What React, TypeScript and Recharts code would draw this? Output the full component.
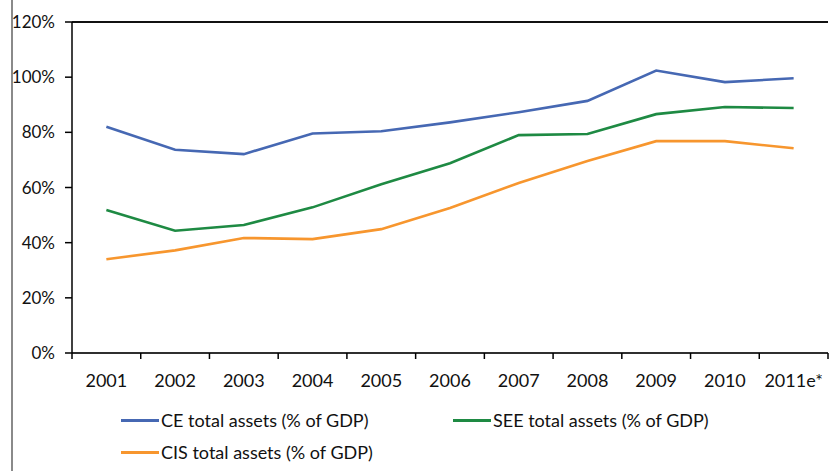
import { LineChart, Line, XAxis, YAxis, CartesianGrid, Legend, ReferenceLine } from "recharts";

const years = ["2001", "2002", "2003", "2004", "2005", "2006", "2007", "2008", "2009", "2010", "2011e*"];
const ceAssets = [82, 73.7, 72.1, 79.6, 80.4, 83.6, 87.3, 91.4, 102.4, 98.2, 99.6];
const seeAssets = [51.8, 44.3, 46.4, 52.8, 61.2, 68.8, 79, 79.4, 86.6, 89.2, 88.8];
const cisAssets = [34, 37.2, 41.7, 41.3, 44.9, 52.6, 61.6, 69.6, 76.8, 76.8, 74.2];
const yTicks = [0, 20, 40, 60, 80, 100, 120];

const series = [
  { key: "ce", name: "CE total assets (% of GDP)", color: "#4668b3" },
  { key: "see", name: "SEE total assets (% of GDP)", color: "#1e8a43" },
  { key: "cis", name: "CIS total assets (% of GDP)", color: "#f7962e" },
];

const data = years.map((year, i) => ({
  year,
  ce: ceAssets[i],
  see: seeAssets[i],
  cis: cisAssets[i],
}));

const FONT = "Lato, 'DejaVu Sans', sans-serif";
const PLOT_W = 756;
const STEP = PLOT_W / years.length;

const XTick = (props: any) => {
  const { x, y, payload, index } = props;
  const last = index === years.length - 1;
  return (
    <g>
      <line x1={x - STEP / 2} x2={x - STEP / 2} y1={y} y2={y + 6} stroke="#000" strokeWidth={1.5} />
      {last && <line x1={x + STEP / 2} x2={x + STEP / 2} y1={y} y2={y + 6} stroke="#000" strokeWidth={1.5} />}
      <text x={x} y={y + 29} textAnchor="middle" dominantBaseline="middle" fontSize={18} fill="#111" fontFamily={FONT}>
        {payload.value}
      </text>
    </g>
  );
};

const LegendBox = () => {
  const pos = [
    { left: 121, top: 16 },
    { left: 453, top: 16 },
    { left: 121, top: 48 },
  ];
  return (
    <div style={{ position: "relative", width: 839, height: 78 }}>
      {series.map((s, i) => (
        <div
          key={s.key}
          style={{
            position: "absolute",
            left: pos[i].left,
            top: pos[i].top,
            display: "flex",
            alignItems: "center",
            fontFamily: FONT,
            fontSize: 18,
            color: "#111",
            whiteSpace: "nowrap",
          }}
        >
          <span style={{ display: "inline-block", width: 38, height: 3, background: s.color, marginRight: 2 }} />
          {s.name}
        </div>
      ))}
    </div>
  );
};

export default function App() {
  return (
    <div style={{ position: "absolute", left: 0, top: 0, width: 839, height: 471, background: "#fff" }}>
      <div style={{ position: "absolute", left: 11, top: 0, width: 2, height: 471, background: "#8a8a8a" }} />
      <LineChart width={839} height={471} data={data} margin={{ top: 22, right: 11, left: 0, bottom: 0 }}>
        <CartesianGrid vertical={false} stroke="#a6a6a6" strokeWidth={1.5} />
        <XAxis
          dataKey="year"
          tick={<XTick />}
          tickLine={false}
          tickSize={0}
          tickMargin={0}
          height={40}
          padding={{ left: STEP / 2, right: STEP / 2 }}
          axisLine={{ stroke: "#000", strokeWidth: 1.5 }}
          interval={0}
        />
        <YAxis
          yAxisId="left"
          width={72}
          domain={[0, 120]}
          ticks={yTicks}
          tickFormatter={(v) => `${v}%`}
          tickSize={7}
          tickMargin={10}
          tickLine={{ stroke: "#000", strokeWidth: 1.5 }}
          axisLine={{ stroke: "#000", strokeWidth: 1.5 }}
          tick={{ fontSize: 17, fill: "#111", fontFamily: FONT }}
        />
        <YAxis
          yAxisId="right"
          orientation="right"
          width={0}
          domain={[0, 120]}
          tick={false}
          tickLine={false}
          axisLine={{ stroke: "#000", strokeWidth: 2 }}
        />
        <ReferenceLine yAxisId="left" y={120} stroke="#111" strokeWidth={2} />
        <Legend verticalAlign="bottom" height={78} content={<LegendBox />} wrapperStyle={{ left: 0, width: 839 }} />
        {series.map((s) => (
          <Line
            key={s.key}
            yAxisId="left"
            type="linear"
            dataKey={s.key}
            name={s.name}
            stroke={s.color}
            strokeWidth={2.6}
            dot={false}
            isAnimationActive={false}
          />
        ))}
      </LineChart>
    </div>
  );
}
